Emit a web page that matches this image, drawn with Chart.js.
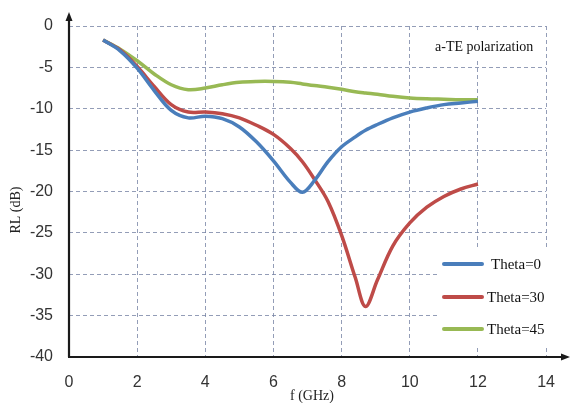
<!DOCTYPE html>
<html>
<head>
<meta charset="utf-8">
<script src="https://cdn.jsdelivr.net/npm/chart.js@4"></script>
<style>
  html, body { margin: 0; padding: 0; background: #fff; }
  #wrap { width: 571px; height: 403px; }
</style>
</head>
<body>
<div id="wrap"><canvas id="rlChart" width="571" height="403"></canvas></div>
<script>
// frequency points (GHz)
const freq = [1, 1.5, 2, 2.5, 3, 3.5, 4, 4.5, 5, 5.5, 6, 6.5, 6.85, 7.2, 7.6, 8, 8.4, 8.7, 9.05, 9.5, 10, 10.5, 11, 11.5, 12];

// return loss (dB) per incidence angle
const theta0  = [-1.7, -3.0, -5.1, -7.8, -10.2, -11.1, -10.9, -11.2, -12.2, -14.0, -16.3, -18.9, -20.1, -18.7, -16.4, -14.6, -13.4, -12.6, -11.9, -11.1, -10.4, -9.9, -9.5, -9.3, -9.1];
const theta30 = [-1.7, -2.9, -4.9, -7.3, -9.5, -10.4, -10.4, -10.6, -11.1, -12.0, -13.1, -14.8, -16.4, -18.5, -21.2, -25.3, -30.4, -33.9, -30.7, -26.6, -23.8, -21.9, -20.6, -19.7, -19.1];
const theta45 = [-1.7, -2.8, -4.2, -5.8, -7.1, -7.7, -7.5, -7.1, -6.8, -6.7, -6.7, -6.8, -7.0, -7.2, -7.4, -7.65, -7.95, -8.1, -8.25, -8.5, -8.7, -8.8, -8.85, -8.9, -8.9];

const seriesNames = ['Theta=0', 'Theta=30', 'Theta=45'];
const seriesColors = ['#4a7ebb', '#be4b48', '#98b954'];

const xTicks = [0, 2, 4, 6, 8, 10, 12, 14];
const yTicks = [0, -5, -10, -15, -20, -25, -30, -35, -40];

const annotationText = 'a-TE polarization';

function pts(ys) {
    return freq.map((f, i) => ({ x: f, y: ys[i] }));
}

// axes with arrows, axis titles, floating legend and note
const decorPlugin = {
    id: 'decor',
    afterDatasetsDraw(chart) {
        const ctx = chart.ctx;
        const xs = chart.scales.x, ys = chart.scales.y;
        const x0 = xs.getPixelForValue(0), y0 = ys.getPixelForValue(-40);
        ctx.save();

        // note box
        ctx.fillStyle = '#fff';
        ctx.fillRect(430, 33, 110, 27);
        ctx.fillStyle = '#111';
        ctx.font = '14px "Liberation Serif"';
        ctx.textAlign = 'left';
        ctx.textBaseline = 'middle';
        ctx.fillText(annotationText, 435, 47);

        // legend box
        ctx.fillStyle = '#fff';
        ctx.fillRect(440, 248, 108, 97);
        ctx.font = '15px "Liberation Serif"';
        const rows = [264, 297, 329];
        chart.data.datasets.forEach((ds, i) => {
            ctx.strokeStyle = ds.borderColor;
            ctx.lineWidth = 4;
            ctx.lineCap = 'round';
            ctx.beginPath();
            ctx.moveTo(444, rows[i]);
            ctx.lineTo(482, rows[i]);
            ctx.stroke();
            ctx.fillStyle = '#111';
            ctx.fillText(ds.label, i === 0 ? 491 : 487, rows[i] + 1);
        });

        // axis lines
        ctx.strokeStyle = '#1a1a1a';
        ctx.fillStyle = '#1a1a1a';
        ctx.lineWidth = 2.2;
        ctx.lineCap = 'butt';
        ctx.beginPath();
        ctx.moveTo(x0, y0);
        ctx.lineTo(x0, 19);
        ctx.moveTo(x0 - 1, y0);
        ctx.lineTo(562, y0);
        ctx.stroke();
        // arrow heads
        ctx.beginPath();
        ctx.moveTo(x0, 12);
        ctx.lineTo(x0 - 3.5, 21);
        ctx.lineTo(x0 + 3.5, 21);
        ctx.closePath();
        ctx.fill();
        ctx.beginPath();
        ctx.moveTo(570, y0);
        ctx.lineTo(561, y0 - 3.5);
        ctx.lineTo(561, y0 + 3.5);
        ctx.closePath();
        ctx.fill();

        // axis titles
        ctx.fillStyle = '#222';
        ctx.font = '14px "Liberation Serif"';
        ctx.textAlign = 'center';
        ctx.fillText('f (GHz)', 312, 396);
        ctx.translate(16, 210);
        ctx.rotate(-Math.PI / 2);
        ctx.fillText('RL (dB)', 0, 0);
        ctx.restore();
    }
};

const gridColor = 'rgba(120,132,165,0.8)';

const chart = new Chart(document.getElementById('rlChart').getContext('2d'), {
    type: 'line',
    data: {
        datasets: [theta0, theta30, theta45].map((ys, i) => ({
            label: seriesNames[i],
            data: pts(ys),
            borderColor: seriesColors[i],
            borderWidth: 3.5,
            pointRadius: 0,
            fill: false,
            tension: 0.35
        }))
    },
    options: {
        responsive: false,
        animation: false,
        layout: { padding: { left: 0, right: 16, top: 26, bottom: 0 } },
        plugins: {
            legend: { display: false },
            tooltip: { enabled: false }
        },
        scales: {
            x: {
                type: 'linear',
                min: 0,
                max: 14,
                afterBuildTicks(s) { s.ticks = xTicks.map(v => ({ value: v })); },
                afterFit(s) { s.height = 46; },
                grid: { color: gridColor, lineWidth: 1, drawTicks: false },
                border: { display: false, dash: [4, 3] },
                ticks: {
                    padding: 16,
                    color: '#333',
                    font: { family: 'Liberation Sans', size: 16 }
                }
            },
            y: {
                type: 'linear',
                min: -40,
                max: 0,
                afterBuildTicks(s) { s.ticks = yTicks.map(v => ({ value: v })); },
                afterFit(s) { s.width = 69; },
                grid: { color: gridColor, lineWidth: 1, drawTicks: false },
                border: { display: false, dash: [4, 3] },
                ticks: {
                    padding: 16,
                    color: '#333',
                    font: { family: 'Liberation Sans', size: 16 }
                }
            }
        }
    },
    plugins: [decorPlugin]
});
</script>
</body>
</html>
